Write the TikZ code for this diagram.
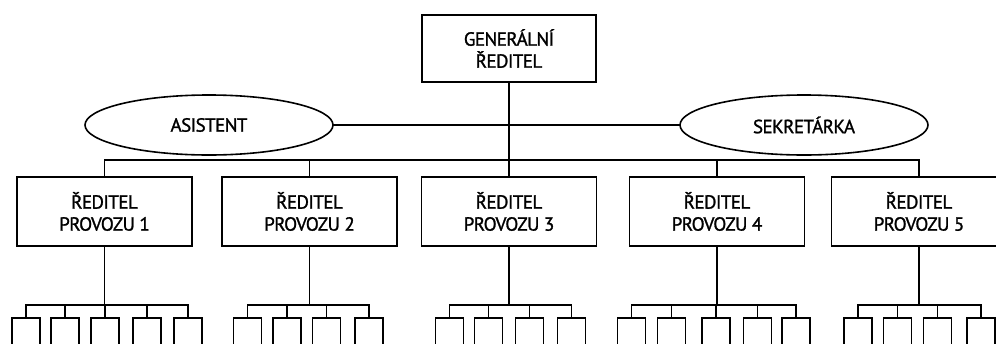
\documentclass[tikz,border=0pt]{standalone}
\usepackage{fontspec}
\setmainfont{PT Sans}[LetterSpace=-3.0,BoldFont={PT Sans},BoldFeatures={FakeBold=1.3}]
\usetikzlibrary{shapes.geometric}
\begin{document}
\begin{tikzpicture}[x=1pt,y=-1pt,line width=1.6pt,
  txt/.style={font=\fontsize{19}{22}\selectfont\bfseries},
  box/.style={draw,rectangle,minimum width=175pt,minimum height=69pt,inner sep=0pt,align=center,txt},
  oval/.style={draw,ellipse,minimum width=248pt,minimum height=60pt,inner sep=0pt,txt},
  unit/.style={draw,rectangle,minimum width=28pt,minimum height=50pt,inner sep=0pt,anchor=north},
  conn/.style={draw,line cap=rect}]
\useasboundingbox (0,0) rectangle (996,343);
\clip (0,0) rectangle (996,343);
% top
\node[box,minimum width=174pt,minimum height=67pt] (gen) at (509,48.5) {GENERÁLNÍ\\ŘEDITEL};
\node[oval] (asi) at (209,125) {ASISTENT};
\node[oval] (sek) at (804,125) {SEKRETÁRKA};
\draw[conn] (asi.east) -- (sek.west);
% directors
\node[box] (p1) at (104.5,211.5) {ŘEDITEL\\PROVOZU 1};
\node[box] (p2) at (309.5,211.5) {ŘEDITEL\\PROVOZU 2};
\node[box] (p3) at (509,211.5) {ŘEDITEL\\PROVOZU 3};
\node[box] (p4) at (717,211.5) {ŘEDITEL\\PROVOZU 4};
\node[box] (p5) at (919,211.5) {ŘEDITEL\\PROVOZU 5};
\coordinate (mb) at (509,160);
\draw[conn] (gen.south) -- (mb);
\draw[conn] (p1.north |- mb) -- (p5.north |- mb);
\foreach \p in {p1,p2,p3,p4,p5} \draw[conn] (\p.north |- mb) -- (\p.north);
% units
\foreach \x [count=\i] in {26,65,105,147,188} \node[unit] (a\i) at (\x,317) {};
\foreach \x [count=\i] in {247.5,287,326.5,369} \node[unit] (b\i) at (\x,317) {};
\foreach \x [count=\i] in {449.5,488.5,529.5,571.5} \node[unit] (c\i) at (\x,317) {};
\foreach \x [count=\i] in {631.5,671.5,716,757.5,796} \node[unit] (d\i) at (\x,317) {};
\foreach \x [count=\i] in {858,897.5,937.5,981} \node[unit] (e\i) at (\x,317) {};
\coordinate (ja) at (104.5,305);
\coordinate (jb) at (309.5,305);
\coordinate (jc) at (509,305);
\coordinate (jd) at (717,305);
\coordinate (je) at (919,305);
\draw[conn] (p1.south) -- (ja);
\draw[conn] (p2.south) -- (jb);
\draw[conn] (p3.south) -- (jc);
\draw[conn] (p4.south) -- (jd);
\draw[conn] (p5.south) -- (je);
\draw[conn] (a1.north |- ja) -- (a5.north |- ja);
\draw[conn] (b1.north |- jb) -- (b4.north |- jb);
\draw[conn] (c1.north |- jc) -- (c4.north |- jc);
\draw[conn] (d1.north |- jd) -- (d5.north |- jd);
\draw[conn] (e1.north |- je) -- (e4.north |- je);
\foreach \n in {a1,a2,a3,a4,a5} \draw[conn] (\n.north |- ja) -- (\n.north);
\foreach \n in {b1,b2,b3,b4} \draw[conn] (\n.north |- jb) -- (\n.north);
\foreach \n in {c1,c2,c3,c4} \draw[conn] (\n.north |- jc) -- (\n.north);
\foreach \n in {d1,d2,d3,d4,d5} \draw[conn] (\n.north |- jd) -- (\n.north);
\foreach \n in {e1,e2,e3,e4} \draw[conn] (\n.north |- je) -- (\n.north);
\end{tikzpicture}
\end{document}
